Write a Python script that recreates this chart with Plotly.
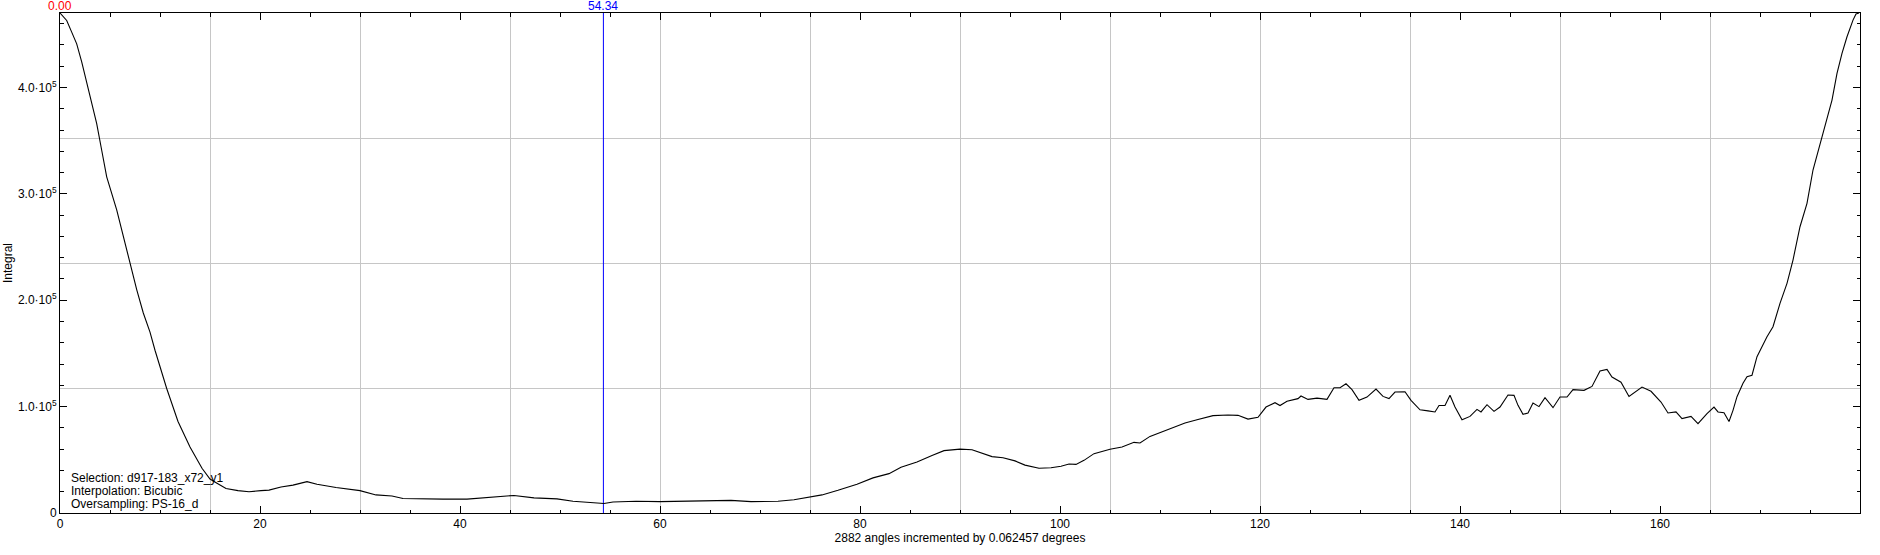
import plotly.graph_objects as go

# ---------------- data ----------------
angles = [
    0.0, 0.67, 1.17, 1.67, 2.17, 2.67, 3.17, 3.67, 4.17, 4.67, 5.67, 6.33, 7.0, 7.67, 8.33, 9.0, 9.5,
    10.67, 11.8, 13.0, 14.2, 15.0, 15.7, 16.6, 17.8, 18.9, 20.1, 20.9, 22.1, 23.3, 24.7, 25.7, 27.6,
    30.0, 31.6, 33.2, 34.3, 36.3, 38.3, 40.7, 42.6, 45.4, 47.4, 49.7, 51.3, 53.3, 54.4, 55.3, 57.6,
    60.0, 63.0, 67.1, 69.1, 71.8, 73.4, 75.0, 76.2, 77.8, 79.7, 81.3, 82.9, 84.1, 85.7, 87.2, 88.4,
    90.0, 91.2, 93.2, 94.3, 95.5, 96.5, 97.9, 99.1, 100.1, 100.9, 101.6, 102.4, 103.4, 105.0, 106.2,
    107.4, 108.0, 109.0, 110.1, 111.3, 112.5, 113.7, 115.3, 116.8, 117.8, 118.8, 119.8,
    120.6, 121.5, 122.0, 122.7, 123.8, 124.1, 124.8, 125.7, 126.7, 127.4, 128.0, 128.6, 129.2, 129.9,
    130.7, 131.6, 132.3, 132.9, 133.5, 134.5, 135.1, 136.0, 136.8, 137.5, 137.9, 138.5, 139.0, 139.5,
    140.2, 141.0, 141.7, 142.1, 142.7, 143.4, 144.0, 144.8, 145.4, 145.8, 146.3, 146.8, 147.3, 147.9,
    148.5, 149.3, 150.0, 150.7, 151.3, 152.4, 153.2, 154.0, 154.7, 155.2, 156.1, 156.9, 158.2, 159.1,
    160.1, 160.8, 161.6, 162.2, 163.1, 163.8, 164.7, 165.4, 165.8, 166.4, 166.9, 167.3, 167.7, 168.3,
    168.7, 169.2, 169.7, 170.7, 171.3, 172.0, 172.7, 173.3, 174.0, 174.7, 175.3, 176.0, 176.7, 177.2,
    177.7, 178.2, 178.7, 179.3, 179.6, 179.9,
]
integral = [
    470000, 463000, 452000, 441000, 424000, 404000, 385000, 366000, 341000, 316000, 285000, 260000,
    235000, 210000, 188000, 170000, 153000,
    117000, 86000, 62000, 42000, 32000, 28000, 23000, 21000, 20000, 21000, 21500, 24500, 26200,
    29500, 27000, 24000,
    21000, 17000, 16000, 13600, 13000, 13000, 13000, 14500, 16500, 14200, 13300, 11000, 9500, 8900,
    10400, 11000,
    10700, 11300, 11900, 10700, 11000, 12500, 15000, 17000, 21300, 27000, 33000, 37000, 43000, 48000,
    54000, 58600,
    60000, 59500, 53000, 52000, 49000, 45000, 42000, 42600, 44000, 46000, 45700, 49500, 55800, 60000,
    62000,
    66400, 65800, 72000, 76000, 80000, 84600, 87700, 91500, 92100, 91800, 88300, 90000,
    99600, 103700, 101000, 105000, 107500, 110000, 106800, 108000, 106800, 117800, 117800, 121500,
    116000, 105900,
    109000, 116500, 109600, 107500, 113700, 114000, 105900, 97000, 96000, 95000, 101000, 101000,
    110600, 99600,
    87700, 90800, 97400, 95000, 101800, 95500, 99600, 110900, 110600, 101200, 92700, 94000, 103400,
    100000,
    108400, 99000, 109000, 109000, 116000, 115300, 119000, 133500, 135000, 127800, 123000, 109600,
    118400, 114400,
    104300, 94000, 95000, 88700, 90800, 84000, 93400, 99600, 95000, 94300, 86000, 96500, 109300,
    122000,
    128000, 129500, 146900, 165700, 175100, 197100, 215900, 237800, 269100, 291100, 322400, 347500,
    372500, 388200,
    413300, 432000, 447700, 463300, 469000, 470000,
]

cursor_red = 0.00
cursor_blue = 54.34

x_tick_vals = [0, 20, 40, 60, 80, 100, 120, 140, 160]
x_tick_text = ["0", "20", "40", "60", "80", "100", "120", "140", "160"]
y_tick_vals = [0, 100000, 200000, 300000, 400000]
y_tick_text = ["0", "1.0·10<sup>5</sup>", "2.0·10<sup>5</sup>", "3.0·10<sup>5</sup>", "4.0·10<sup>5</sup>"]

info_lines = ["Selection: d917-183_x72_y1", "Interpolation: Bicubic", "Oversampling: PS-16_d"]

x_title = "2882 angles incremented by 0.062457 degrees"
y_title = "Integral"

# ---------------- figure ----------------
X_RANGE = [0, 180]
Y_RANGE = [0, 470000]
grid_x = [15 * i for i in range(1, 12)]
grid_y = [Y_RANGE[1] / 4 * i for i in range(1, 4)]

FONT = "Liberation Sans, Arial, Helvetica, sans-serif"

fig = go.Figure()

# blue cursor on the main axes
fig.add_trace(go.Scatter(
    x=[cursor_blue, cursor_blue], y=Y_RANGE, mode="lines",
    line=dict(color="#0000ff", width=1), hoverinfo="skip", showlegend=False,
    xaxis="x", yaxis="y",
))

# data on the overlay axes (which carry the grid)
fig.add_trace(go.Scatter(
    x=angles, y=integral, mode="lines",
    line=dict(color="black", width=1.1), showlegend=False,
    xaxis="x2", yaxis="y2",
))

axis_common = dict(
    showline=True, linecolor="black", linewidth=1, mirror="ticks",
    ticks="inside", ticklen=7, tickwidth=1, tickcolor="black",
    showgrid=False, zeroline=False, automargin=False,
    tickfont=dict(family=FONT, size=12, color="black"),
)

fig.update_layout(
    width=1880, height=555,
    margin=dict(l=60, r=20, t=13, b=42),
    paper_bgcolor="white", plot_bgcolor="white",
    font=dict(family=FONT, size=12, color="black"),
    xaxis=dict(
        range=X_RANGE, tickvals=x_tick_vals, ticktext=x_tick_text,
        minor=dict(dtick=5, tick0=0, ticks="inside", ticklen=3.5, tickcolor="black", showgrid=False),
        title=dict(text=x_title, standoff=2, font=dict(family=FONT, size=12)),
        **axis_common,
    ),
    yaxis=dict(
        range=Y_RANGE, tickvals=y_tick_vals, ticktext=y_tick_text,
        minor=dict(dtick=20000, tick0=0, ticks="inside", ticklen=3.5, tickcolor="black", showgrid=False),
        title=dict(text=y_title, standoff=2, font=dict(family=FONT, size=12)),
        **axis_common,
    ),
    xaxis2=dict(
        range=X_RANGE, overlaying="x", anchor="y2", tickvals=grid_x,
        showgrid=True, gridcolor="#c6c6c6", gridwidth=1, automargin=False,
        showticklabels=False, ticks="", showline=False, zeroline=False,
    ),
    yaxis2=dict(
        range=Y_RANGE, overlaying="y", anchor="x2", tickvals=grid_y,
        showgrid=True, gridcolor="#c6c6c6", gridwidth=1, automargin=False,
        showticklabels=False, ticks="", showline=False, zeroline=False,
    ),
)

annotations = [
    dict(x=cursor_red, xref="x", y=1, yref="paper", yanchor="bottom", xanchor="center",
         text=f"{cursor_red:.2f}", showarrow=False, font=dict(family=FONT, size=12, color="#ff0000"),
         borderpad=0, yshift=-1),
    dict(x=cursor_blue, xref="x", y=1, yref="paper", yanchor="bottom", xanchor="center",
         text=f"{cursor_blue:.2f}", showarrow=False, font=dict(family=FONT, size=12, color="#0000ff"),
         borderpad=0, yshift=-1),
]
for i, line in enumerate(info_lines):
    annotations.append(dict(
        x=0.0056, xref="paper", y=0.0706 - i * 0.0265, yref="paper",
        xanchor="left", yanchor="middle", text=line, showarrow=False,
        font=dict(family=FONT, size=12, color="black"), borderpad=0,
    ))
fig.update_layout(annotations=annotations)

fig.write_html(
    "out.html",
    config={"displayModeBar": False},
    post_script="document.body.style.margin='0';document.body.style.overflow='hidden';",
)
